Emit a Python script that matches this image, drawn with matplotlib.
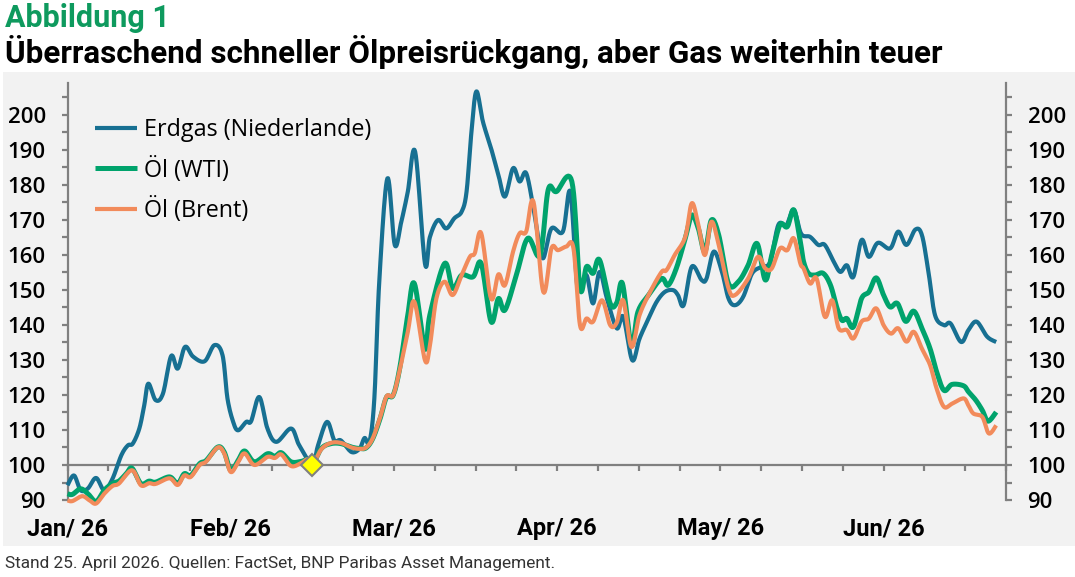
import numpy as np
import matplotlib
matplotlib.use("Agg")
import matplotlib.pyplot as plt
from matplotlib.patches import Rectangle
import matplotlib.transforms as mtransforms

# x axis in trading days, one tick every 5 days
month_labels = ["Jan/ 26", "Feb/ 26", "Mar/ 26", "Apr/ 26", "May/ 26", "Jun/ 26"]
month_pos = [0, 20, 40, 60, 80, 100]

gas_x = [0, 0.8, 1.6, 2.5, 3.5, 4.5, 5.5, 6.6, 7.4, 8.0, 8.8, 9.4, 9.9, 10.8, 11.7, 12.7, 13.5, 14.4, 15.4, 16.8,
         18.0, 19.0, 19.6, 20.3, 20.9, 21.9, 22.5, 23.5, 24.5, 25.6, 27.4, 28.4, 30.0, 30.7, 31.8, 32.7, 33.5, 34.8,
         35.8, 36.4, 37.0, 37.6, 38.2, 39.2, 40.1, 40.9, 41.7, 42.6, 43.8, 44.4, 45.4, 46.4, 47.4, 48.3, 48.9, 49.5,
         50.1, 50.9, 51.9, 52.8, 53.6, 54.6, 55.4, 56.2, 57.1, 57.7, 58.3, 59.3, 60.7, 61.6, 62.4, 62.8, 63.6, 64.4,
         65.2, 66.1, 67.3, 68.1, 69.2, 70.1, 71.2, 72.2, 73.2, 74.2, 74.8, 75.5, 76.5, 77.7, 78.3, 79.2, 80.2, 81.0,
         81.8, 82.8, 83.9, 85.1, 86.1, 87.1, 88.1, 89.0, 89.9, 91.0, 92.0, 92.8, 93.9, 94.7, 95.5, 96.3, 97.3, 98.2,
         99.3, 100.8, 101.8, 102.8, 103.9, 104.7, 105.5, 106.3, 107.4, 108.2, 109.5, 110.4, 111.4, 112.7, 113.8]
gas_y = [94.2, 97.0, 92.8, 93.3, 96.3, 92.8, 96.0, 102.8, 105.6, 106.1, 110.4, 117.0, 123.2, 118.5, 120.4, 131.1,
         127.5, 133.7, 130.9, 129.6, 134.2, 131.3, 119.0, 112.3, 109.9, 112.3, 112.5, 119.4, 110.4, 106.6, 110.4,
         105.6, 100.3, 105.6, 112.3, 107.0, 107.0, 103.7, 104.7, 107.7, 106.6, 119.0, 152.3, 181.8, 162.8, 169.4,
         178.0, 189.4, 157.5, 165.0, 169.9, 167.5, 170.4, 172.3, 178.0, 195.1, 206.6, 198.0, 190.4, 182.8, 176.6,
         184.7, 180.9, 183.3, 173.2, 164.7, 159.0, 167.5, 166.6, 178.0, 152.3, 150.4, 154.2, 146.1, 155.1, 147.5,
         139.0, 142.3, 129.9, 136.1, 141.8, 146.6, 149.4, 149.9, 148.5, 145.6, 156.6, 152.8, 153.2, 160.9, 155.1,
         147.5, 145.6, 148.0, 154.7, 156.6, 158.0, 168.5, 168.5, 172.8, 166.0, 165.1, 162.8, 162.8, 158.0, 155.1,
         157.0, 153.7, 164.2, 159.4, 163.4, 161.8, 166.6, 162.8, 167.2, 165.6, 155.1, 142.8, 139.9, 140.4, 135.1,
         138.5, 140.9, 136.6, 135.1]

wti_x = [0, 0.6, 1.6, 2.5, 3.5, 4.5, 5.5, 6.3, 7.2, 7.9, 9.0, 10.0, 10.8, 12.5, 13.5, 14.3, 15.1, 16.2, 17.0, 18.4,
         19.2, 20.0, 20.9, 21.7, 22.9, 24.5, 25.4, 26.2, 27.4, 28.6, 29.4, 30.0, 31.1, 32.3, 33.5, 34.8, 35.8, 36.6,
         37.4, 38.3, 39.1, 39.9, 40.7, 41.7, 42.5, 43.8, 44.4, 46.2, 47.2, 48.3, 49.7, 50.7, 51.9, 52.8, 53.6, 55.0,
         56.4, 57.9, 58.9, 59.9, 61.8, 62.8, 63.6, 64.4, 65.2, 66.5, 67.3, 68.0, 69.1, 69.9, 71.2, 72.8, 73.6, 74.6,
         75.7, 76.5, 77.3, 78.1, 78.9, 79.8, 81.0, 82.2, 83.4, 84.5, 85.5, 86.3, 87.3, 88.2, 89.0, 89.8, 90.2, 90.8,
         91.6, 92.6, 93.5, 94.3, 94.9, 95.5, 96.3, 97.3, 98.2, 99.1, 100.0, 100.8, 101.7, 102.7, 103.7, 104.7, 105.7,
         106.5, 107.4, 108.4, 109.8, 110.4, 111.3, 112.1, 112.8, 113.8]
wti_y = [91.8, 91.6, 93.2, 91.8, 89.6, 92.8, 94.7, 95.4, 97.5, 99.1, 94.7, 95.4, 95.1, 96.6, 94.7, 97.5, 97.0, 100.4,
         101.3, 105.1, 103.7, 98.5, 101.3, 104.0, 100.9, 103.2, 102.5, 103.5, 100.9, 101.0, 101.5, 100.0, 104.7,
         106.1, 106.1, 105.1, 104.7, 104.9, 107.5, 113.2, 119.4, 119.9, 127.5, 142.8, 151.8, 133.2, 142.8, 157.5,
         150.4, 154.2, 153.7, 157.5, 140.9, 147.5, 144.2, 154.2, 164.7, 159.9, 178.5, 178.0, 180.9, 150.4, 156.6,
         154.7, 158.5, 146.1, 146.3, 151.8, 134.2, 143.7, 148.5, 153.2, 151.3, 156.1, 164.7, 171.3, 167.5, 160.9,
         169.9, 165.6, 151.8, 152.3, 157.0, 163.2, 152.8, 159.9, 168.5, 168.0, 172.8, 163.7, 158.0, 154.7, 154.2,
         154.7, 151.3, 144.7, 141.3, 141.8, 139.4, 147.5, 149.4, 153.4, 148.5, 145.1, 146.1, 141.0, 143.9, 139.0,
         133.2, 126.6, 121.3, 123.0, 122.6, 120.9, 118.5, 115.6, 112.5, 115.1]

brent_x = [0, 0.6, 1.8, 2.7, 3.5, 4.5, 5.5, 6.3, 7.9, 9.0, 10.0, 10.8, 12.5, 13.5, 14.3, 15.1, 16.2, 17.0, 18.4,
           19.2, 20.0, 20.9, 21.7, 22.9, 24.5, 25.4, 26.2, 27.4, 28.6, 29.4, 30.0, 31.1, 32.3, 33.5, 34.8, 35.8,
           36.6, 37.4, 38.3, 39.1, 39.9, 40.7, 41.7, 42.5, 43.8, 44.4, 45.2, 46.2, 47.2, 48.3, 49.3, 49.9, 50.7,
           51.9, 52.8, 53.6, 54.6, 55.4, 56.2, 57.1, 58.3, 59.3, 60.1, 61.1, 62.0, 62.8, 63.6, 64.4, 65.5, 66.5,
           67.3, 68.1, 69.1, 70.1, 71.4, 72.8, 73.4, 74.4, 75.7, 76.5, 77.3, 78.1, 78.9, 79.8, 81.0, 81.8, 83.4,
           84.6, 85.5, 86.3, 87.3, 88.2, 89.0, 89.8, 90.2, 91.0, 91.8, 92.8, 93.7, 94.5, 95.5, 96.3, 97.3, 98.2,
           99.1, 100.0, 100.9, 101.8, 102.8, 103.7, 104.7, 105.7, 106.5, 107.4, 108.4, 109.8, 110.4, 111.0, 112.1,
           112.9, 113.8]
brent_y = [89.9, 89.7, 91.1, 89.9, 89.0, 91.8, 94.0, 94.7, 98.5, 94.2, 94.8, 94.6, 96.2, 94.3, 97.0, 96.6, 100.0,
           101.0, 105.0, 103.3, 98.0, 100.8, 103.3, 100.0, 102.3, 102.0, 103.0, 99.7, 100.5, 101.6, 100.0, 104.5,
           106.3, 106.3, 105.0, 104.6, 105.0, 107.6, 113.5, 119.6, 119.9, 127.0, 138.0, 146.6, 129.9, 134.0, 147.5,
           152.3, 148.5, 154.2, 159.4, 160.4, 166.1, 147.5, 154.4, 151.3, 160.9, 166.1, 166.6, 175.1, 149.4, 161.8,
           161.3, 162.3, 161.8, 139.9, 141.8, 140.9, 147.0, 139.9, 140.6, 147.0, 133.7, 142.8, 149.4, 155.1, 155.6,
           159.9, 165.1, 174.7, 168.5, 159.9, 169.4, 162.8, 150.4, 148.5, 153.2, 159.4, 156.1, 156.1, 161.8, 161.3,
           164.7, 157.5, 156.1, 151.8, 153.2, 142.3, 147.0, 139.0, 138.5, 136.1, 140.9, 141.8, 144.7, 139.9, 137.5,
           139.0, 135.2, 138.0, 133.2, 128.5, 121.8, 116.6, 117.5, 119.0, 117.0, 114.7, 113.7, 109.0, 111.3]

marker_day = 30
marker_value = 100

series = [
    ("Erdgas (Niederlande)", gas_x, gas_y, "#177092", 3.0),
    ("Öl (WTI)", wti_x, wti_y, "#00A36C", 3.6),
    ("Öl (Brent)", brent_x, brent_y, "#F28B5B", 3.0),
]


def smooth(xs, ys, n=12):
    # Catmull-Rom style smoothing like the spreadsheet's "smoothed line"
    p = np.column_stack([xs, ys]).astype(float)
    ext = np.vstack([p[0], p, p[-1]])
    t = np.linspace(0, 1, n, endpoint=False)[:, None]
    out = []
    for i in range(len(p) - 1):
        p0, p1, p2, p3 = ext[i], ext[i + 1], ext[i + 2], ext[i + 3]
        m1 = (p2 - p0) / 2
        m2 = (p3 - p1) / 2
        h00 = 2 * t**3 - 3 * t**2 + 1
        h10 = t**3 - 2 * t**2 + t
        h01 = -2 * t**3 + 3 * t**2
        h11 = t**3 - t**2
        out.append(h00 * p1 + h10 * m1 + h01 * p2 + h11 * m2)
    out.append(p[-1:])
    s = np.vstack(out)
    return s[:, 0], s[:, 1]


grey = "#808080"
fig = plt.figure(figsize=(10.75, 5.77), dpi=100)
fig.patch.set_facecolor("white")
fig.patches.append(Rectangle((0.003, 0.054), 0.997, 0.822, transform=fig.transFigure,
                             facecolor="#F2F2F2", edgecolor="none", zorder=-10))

ax = fig.add_axes([0.0628, 0.1334, 0.873, 0.7227])
ax.set_facecolor("none")
ax.set_zorder(2)

for name, xs, ys, color, lw in series:
    sx, sy = smooth(xs, ys)
    ax.plot(sx, sy, color=color, lw=lw, label=name, solid_capstyle="butt",
            solid_joinstyle="round", zorder=3, clip_on=False)

ax.plot([marker_day], [marker_value], marker="D", ms=11, mfc="#FFFF00", mec=grey,
        mew=1.5, zorder=6, clip_on=False)

ax.set_xlim(0, 115)
ax.set_ylim(90, 209)

ax.spines["top"].set_visible(False)
for side in ["left", "right", "bottom"]:
    ax.spines[side].set_color(grey)
    ax.spines[side].set_linewidth(1.6)
ax.spines["bottom"].set_position(("data", 100))

ax.set_xticks(np.arange(0, 116, 5))
ax.set_xticklabels([])
ax.tick_params(axis="x", direction="out", length=4.5, width=1.6, color=grey)

ax.set_yticks(np.arange(90, 201, 10))
ax.set_yticks(np.arange(95, 206, 10), minor=True)
ax.tick_params(axis="y", which="both", direction="out", length=4.5, width=1.6, color=grey,
               left=True, right=True, labelleft=True, labelright=True, pad=11)
for lab in ax.get_yticklabels():
    lab.set_fontfamily("Open Sans")
    lab.set_fontsize(16)
    lab.set_fontweight("semibold")
    lab.set_color("black")

trans = mtransforms.blended_transform_factory(ax.transData, ax.transAxes)
for pos, lab in zip(month_pos, month_labels):
    ax.text(pos, -0.069, lab, transform=trans, ha="center", va="center",
            fontfamily="Roboto", fontweight="bold", fontsize=17, color="black")

leg = ax.legend(loc="upper left", bbox_to_anchor=(0.029, 0.916), frameon=False,
                prop={"family": "Open Sans", "size": 16.8, "weight": "medium"},
                handlelength=1.8, handletextpad=0.3, labelspacing=0.62,
                borderpad=0, borderaxespad=0)

fig.text(0.005, 1 - 26.7 / 577, "Abbildung 1", fontfamily="Roboto", fontweight="bold",
         fontsize=22, color="#0E9A5E", va="baseline", ha="left")
fig.text(0.005, 1 - 63 / 577, "Überraschend schneller Ölpreisrückgang, aber Gas weiterhin teuer",
         fontfamily="Roboto", fontweight="bold", fontsize=22.6, color="black",
         va="baseline", ha="left")
fig.text(0.005, 1 - 568 / 577,
         "Stand 25. April 2026. Quellen: FactSet, BNP Paribas Asset Management.",
         fontfamily="Roboto", fontweight="normal", fontsize=12.4, color="#333333",
         va="baseline", ha="left")

fig.savefig("out.png", dpi=100)
